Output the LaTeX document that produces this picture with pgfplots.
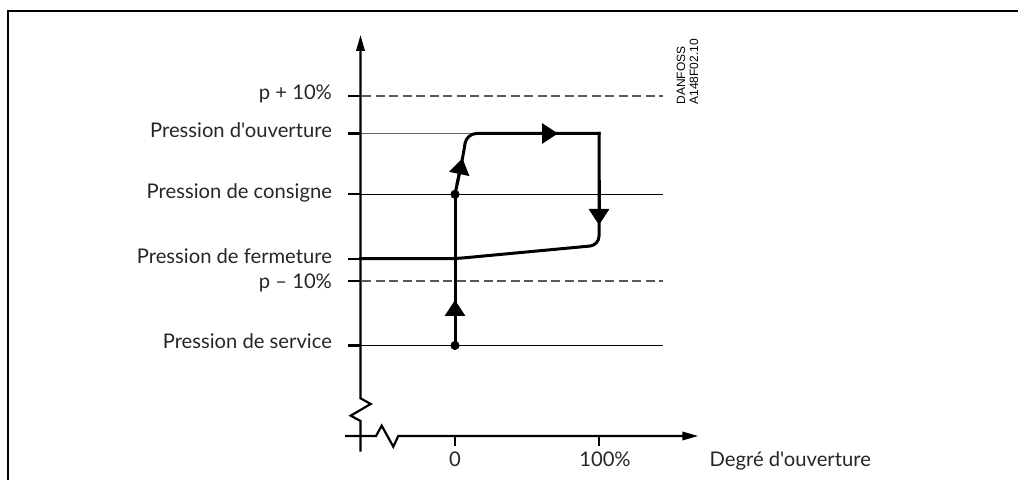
\documentclass[border=0pt]{standalone}
\usepackage{fontspec}
\setmainfont{Lato}[Ligatures=TeXOff]
\newfontfamily\arialfont{Liberation Sans}
\usepackage{pgfplots}
\pgfplotsset{compat=1.18}
\usetikzlibrary{arrows.meta}
\tikzset{
  lbl/.style={font=\fontsize{10.1}{12}\selectfont, text=black!85, inner sep=0pt},
  arr/.style={-{Triangle[length=8pt,width=10pt]}},
  axarr/.style={-{Triangle[length=8pt,width=4.2pt]}},
}
\begin{document}
\begin{tikzpicture}
\begin{axis}[
  scale only axis, width=509pt, height=240pt,
  xmin=0, xmax=1018, ymin=0, ymax=480,
  hide axis, clip=true,
]
% invisible bounding plot
\addplot[draw=none] coordinates {(0,0) (1018,480)};
% frame
\addplot[black, line width=0.85pt] coordinates {(8,-10) (8,469.3) (1040,469.3)};
% thin reference lines
\addplot[black!60, line width=0.5pt] coordinates {(360.5,346.5) (478,346.5)};
\addplot[black, line width=0.5pt] coordinates {(360.5,285.7) (663,285.7)};
\addplot[black, line width=0.5pt] coordinates {(360.5,134.5) (663,134.5)};
\addplot[black!65, line width=0.6pt, dash pattern=on 4.5pt off 2.25pt] coordinates {(362,384) (663,384)};
\addplot[black!65, line width=0.6pt, dash pattern=on 4.5pt off 2.25pt] coordinates {(362,199) (663,199)};
% y axis with break
\addplot[black, line width=1.1pt, axarr, line join=miter] coordinates {(360.5,28.3) (360.5,59) (350.7,64.3) (370.7,76) (360.5,81.7) (360.5,445)};
% x axis with break
\addplot[black, line width=1.1pt, axarr, line join=miter] coordinates {(345,44) (376,44) (381.7,54.3) (393.3,33.3) (398.3,44) (698.3,44)};
% y ticks
\addplot[black, line width=1.1pt] coordinates {(348,384) (360.5,384)};
\addplot[black, line width=1.1pt] coordinates {(348,346.5) (360.5,346.5)};
\addplot[black, line width=1.1pt] coordinates {(348,285.7) (360.5,285.7)};
\addplot[black, line width=1.1pt] coordinates {(348,221.3) (360.5,221.3)};
\addplot[black, line width=1.1pt] coordinates {(348,199) (360.5,199)};
\addplot[black, line width=1.1pt] coordinates {(348,134.5) (360.5,134.5)};
% x ticks
\addplot[black, line width=1.1pt] coordinates {(455,44) (455,34.3)};
\addplot[black, line width=1.1pt] coordinates {(599,44) (599,34.3)};
% process path
\addplot[black, line width=1.5pt, line cap=rect] coordinates {(455,134.5) (455,285.7)};
\addplot[black, line width=1.5pt, line cap=rect, rounded corners=5pt] coordinates {(455,285.7) (463.8,328) (466.5,346.5) (599,346.5)};
\addplot[black, line width=1.5pt, line cap=rect, rounded corners=4.5pt] coordinates {(599,346.5) (599,234.8) (455,221.3) (360.5,221.3)};
% arrows on path
\addplot[black, line width=1.5pt, arr] coordinates {(455,150) (455,180)};
\addplot[black, line width=1.5pt, arr] coordinates {(456.93,295) (462.49,321.7)};
\addplot[black, line width=1.5pt, arr] coordinates {(500,346.5) (558,346.5)};
\addplot[black, line width=1.5pt, arr] coordinates {(599,300) (599,255)};
% dots
\addplot[only marks, mark=*, mark size=2.05pt, black] coordinates {(455,285.7) (455,134.5)};
% labels
\node[lbl, anchor=base east] at (axis cs:332.3,380.7) {p + 10\%};
\node[lbl, anchor=base east] at (axis cs:332.3,342.3) {Pression d'ouverture};
\node[lbl, anchor=base east] at (axis cs:332.3,281.7) {Pression de consigne};
\node[lbl, anchor=base east] at (axis cs:332.3,216.7) {Pression de fermeture};
\node[lbl, anchor=base east] at (axis cs:332.3,191.7) {p – 10\%};
\node[lbl, anchor=base east] at (axis cs:332.3,131.7) {Pression de service};
\node[lbl, anchor=base] at (axis cs:455,13.3) {0};
\node[lbl, anchor=base] at (axis cs:605,13.3) {100\%};
\node[lbl, anchor=base west] at (axis cs:709.3,13.5) {Degré d'ouverture};
\node[font=\arialfont\fontsize{6}{7}\selectfont, inner sep=0pt, rotate=90, anchor=base west] at (axis cs:685,375) {DANFOSS};
\node[font=\arialfont\fontsize{6}{7}\selectfont, inner sep=0pt, rotate=90, anchor=base west] at (axis cs:698,375) {A148F02.10};
\end{axis}
\end{tikzpicture}
\end{document}
